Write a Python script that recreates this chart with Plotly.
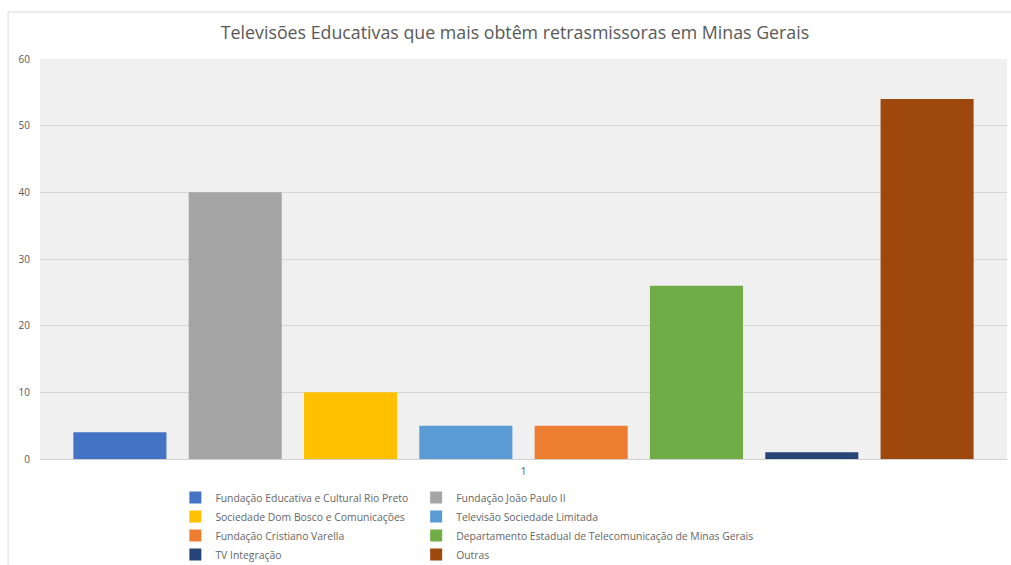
import plotly.graph_objects as go

categories = ["1"]
series_names = [
    "Fundação Educativa e Cultural Rio Preto",
    "Fundação João Paulo II",
    "Sociedade Dom Bosco e Comunicações",
    "Televisão Sociedade Limitada",
    "Fundação Cristiano Varella",
    "Departamento Estadual de Telecomunicação de Minas Gerais",
    "TV Integração",
    "Outras",
]
series_values = [4, 40, 10, 5, 5, 26, 1, 54]
series_colors = ["#4472C4", "#A5A5A5", "#FFC000", "#5B9BD5",
                 "#ED7D31", "#70AD47", "#264478", "#9E480E"]
y_ticks = [0, 10, 20, 30, 40, 50, 60]

fig = go.Figure()
for i, (name, val, col) in enumerate(zip(series_names, series_values, series_colors)):
    fig.add_trace(go.Bar(
        x=categories, y=[val], name=name, marker_color=col,
        marker_line_width=0,
        legend="legend" if i % 2 == 0 else "legend2",
    ))

font_family = "Open Sans, Liberation Sans, sans-serif"
fig.update_layout(
    width=1011, height=565,
    margin=dict(l=40, r=4, t=59, b=106, autoexpand=False),
    paper_bgcolor="white",
    plot_bgcolor="#f0f0f0",
    barmode="group",
    bargap=0.046,
    bargroupgap=0.193,
    title=dict(text="Televisões Educativas que mais obtêm retrasmissoras em Minas Gerais",
               x=0.5094, xanchor="center", y=1 - 33 / 565, yanchor="middle",
               font=dict(family=font_family, size=17.8, color="#595959")),
    font=dict(family=font_family, color="#595959", size=10),
    showlegend=True,
    legend=dict(x=0.14, y=-0.06, xanchor="left", yanchor="top",
                bgcolor="rgba(0,0,0,0)", font=dict(size=10.4, color="#666666"),
                traceorder="normal"),
    legend2=dict(x=0.389, y=-0.06, xanchor="left", yanchor="top",
                 bgcolor="rgba(0,0,0,0)", font=dict(size=10.4, color="#666666"),
                 traceorder="normal"),
    xaxis=dict(type="category", showgrid=False, showline=True, linecolor="#d0d0d0",
               ticks="", ticklabelstandoff=3, tickfont=dict(size=10, color="#595959")),
    yaxis=dict(range=[0, 60], tickvals=y_ticks, showgrid=True, gridcolor="#d6d6d6",
               gridwidth=1, zeroline=False, showline=False, ticks="",
               ticklabelstandoff=9,
               tickfont=dict(size=10, color="#595959")),
)

fig.add_shape(type="line", xref="paper", yref="paper",
              x0=-0.033, x1=-0.033, y0=1.1175, y1=-0.27,
              line=dict(color="#d9d9d9", width=1))
fig.add_shape(type="line", xref="paper", yref="paper",
              x0=-0.033, x1=1.01, y0=1.1175, y1=1.1175,
              line=dict(color="#d9d9d9", width=1))

fig.write_html("out.html")
